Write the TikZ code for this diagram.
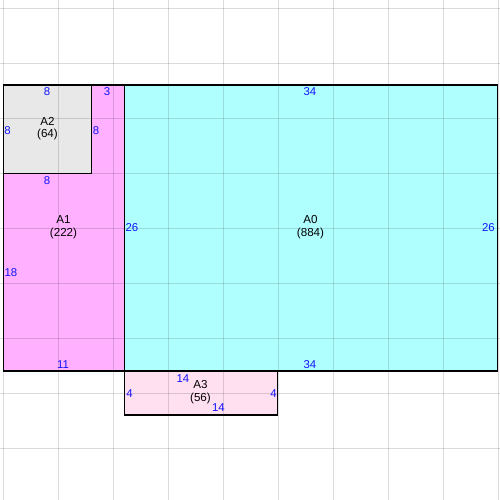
\documentclass[tikz,border=0pt]{standalone}
\usepackage{fontspec}
\setmainfont{Liberation Sans}
\definecolor{a0fill}{RGB}{176,255,255}
\definecolor{a1fill}{RGB}{255,176,255}
\definecolor{a2fill}{RGB}{232,232,232}
\definecolor{a3fill}{RGB}{255,224,240}
\definecolor{numblue}{RGB}{20,20,255}
\begin{document}
\begin{tikzpicture}[x=0.5pt,y=-0.5pt,
  num/.style={text=numblue,font=\fontsize{5.7pt}{6.5pt}\selectfont,inner sep=0pt},
  areaname/.style={text=black,font=\fontsize{5.8pt}{6.25pt}\selectfont,inner sep=0pt,align=center},
  region/.style={draw=black,line width=0.7pt},
  gridline/.style={draw=black,draw opacity=0.14,line width=0.5pt}]
\useasboundingbox (0,0) rectangle (500,500);
\fill[white] (0,0) rectangle (500,500);
% fills
\fill[a1fill] (3.5,85) rectangle (124.5,371);
\fill[a2fill] (3.5,85) rectangle (91.5,173.5);
\fill[a0fill] (124.5,85) rectangle (497.5,371);
\fill[a3fill] (124.5,371) rectangle (277.5,415);
% grid
\foreach \k in {0,...,9} \draw[gridline] ({3.5+55*\k},0) -- ({3.5+55*\k},500);
\foreach \k in {0,...,8} \draw[gridline] (0,{8+55*\k}) -- (500,{8+55*\k});
% borders
\draw[region] (3.5,85) rectangle (124.5,371);
\draw[region] (3.5,85) rectangle (91.5,173.5);
\draw[region] (124.5,85) rectangle (497.5,371);
\draw[region] (124.5,371) rectangle (277.5,415);
% A2
\node[areaname] (nA2) at (47.5,128.5) {A2\\(64)};
\node[num] (a2t) at (47,92) {8};
\node[num] (a2l) at (7.5,130.5) {8};
\node[num] (a2r) at (96,130.5) {8};
\node[num] (a2b) at (47,180.5) {8};
% A1
\node[areaname] (nA1) at (63.5,227) {A1\\(222)};
\node[num] (a1t) at (107,92) {3};
\node[num] (a1l) at (11,273) {18};
\node[num] (a1b) at (63,365) {11};
% A0
\node[areaname] (nA0) at (310.5,227) {A0\\(884)};
\node[num] (a0t) at (310,91.5) {34};
\node[num] (a0l) at (132,228) {26};
\node[num] (a0r) at (488.5,228) {26};
\node[num] (a0b) at (310,365) {34};
% A3
\node[areaname] (nA3) at (200.5,392) {A3\\(56)};
\node[num] (a3t) at (183,378.5) {14};
\node[num] (a3b) at (218.5,408) {14};
\node[num] (a3l) at (129.5,393.5) {4};
\node[num] (a3r) at (273.5,393.5) {4};
\end{tikzpicture}
\end{document}
